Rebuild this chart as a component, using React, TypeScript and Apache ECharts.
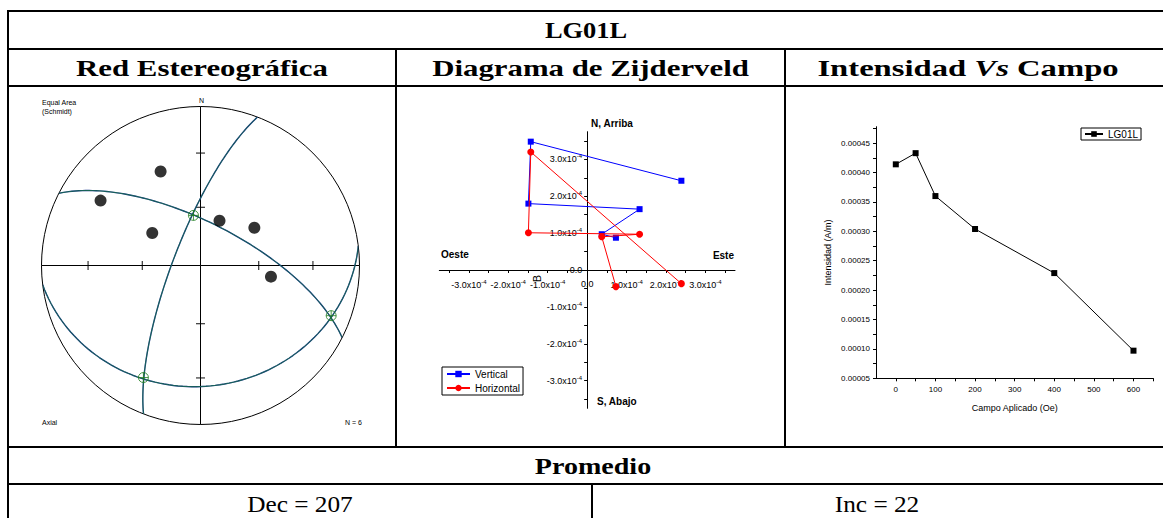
import React, { useEffect, useRef } from "react";
import * as echarts from "echarts";

// ---------- Data ----------
const siteName = "LG01L";
const headers = ["Red Estereográfica", "Diagrama de Zijderveld", "Intensidad Vs Campo"];

// Stereonet (equal area, lower hemisphere): directions as declination / inclination
const dotDec = [337, 303, 304, 23, 55, 99];
const dotInc = [36, 26, 60, 65, 56, 53];
// Great circles: dip direction / dip
const planeDipDir = [27, 291, 173];
const planeDip = [68, 76, 25];
// Intersections (circle-plus markers): trend / plunge
const crossDec = [352, 111, 207];
const crossInc = [64, 13, 22];
const stereoTickIncs = [30, 60];
const stereoTickDirs = [0, 90, 180, 270];

// Zijderveld (A/m)
const zEast = [2.39e-4, -1.43e-4, -1.49e-4, 1.33e-4, 0.37e-4, 0.73e-4];
const zUp = [2.42e-4, 3.48e-4, 1.8e-4, 1.65e-4, 0.97e-4, 0.875e-4];
const zNorth = [-0.37e-4, 3.2e-4, 1.01e-4, 0.97e-4, 0.9e-4, -0.45e-4];
const zLabelTicks = [-3e-4, -2e-4, -1e-4, 0, 1e-4, 2e-4, 3e-4];
const zMinorTicks = [-3.5e-4, -3e-4, -2.5e-4, -2e-4, -1.5e-4, -1e-4, -0.5e-4, 0, 0.5e-4, 1e-4, 1.5e-4, 2e-4, 2.5e-4, 3e-4, 3.5e-4];

// Intensity vs applied field
const fieldSteps = [0, 50, 100, 200, 400, 600];
const intensity = [0.000414, 0.000433, 0.00036, 0.000304, 0.000229, 0.000097];
const fieldLabels = [0, 100, 200, 300, 400, 500, 600];
const fieldTicks = [0, 50, 100, 150, 200, 250, 300, 350, 400, 450, 500, 550, 600, 650];
const intLabels = [0.00005, 0.0001, 0.00015, 0.0002, 0.00025, 0.0003, 0.00035, 0.0004, 0.00045];
const intTicks = [0.00005, 0.000075, 0.0001, 0.000125, 0.00015, 0.000175, 0.0002, 0.000225, 0.00025, 0.000275, 0.0003, 0.000325, 0.00035, 0.000375, 0.0004, 0.000425, 0.00045, 0.000475];

const avgDec = 207;
const avgInc = 22;

// ---------- helpers ----------
const SERIF = "'Liberation Serif', 'Times New Roman', serif";
const SANS = "'Liberation Sans', Arial, sans-serif";
const RAD = Math.PI / 180;
const eqArea = (plunge: number) => Math.SQRT2 * Math.sin(((90 - plunge) / 2) * RAD);

function greatCircle(dd: number, dip: number) {
  const st = (dd - 90) * RAD;
  const s = [Math.sin(st), Math.cos(st), 0];
  const d = [Math.sin(dd * RAD) * Math.cos(dip * RAD), Math.cos(dd * RAD) * Math.cos(dip * RAD), Math.sin(dip * RAD)];
  const pts: number[][] = [];
  for (let t = 0; t <= 180; t += 2) {
    const c = Math.cos(t * RAD), sn = Math.sin(t * RAD);
    const v = [c * s[0] + sn * d[0], c * s[1] + sn * d[1], c * s[2] + sn * d[2]];
    const plunge = Math.asin(Math.max(-1, Math.min(1, v[2]))) / RAD;
    let trend = Math.atan2(v[0], v[1]) / RAD;
    if (trend < 0) trend += 360;
    pts.push([eqArea(plunge), trend]);
  }
  return pts;
}

const fmtZ = (v: number) => {
  const m = Math.round((v / 1e-4) * 10) / 10;
  if (m === 0) return "{a|0.0}";
  return `{a|${m.toFixed(1)}x10}{s|-4}`;
};
const zRich = {
  a: { fontSize: 9, fontFamily: SANS, color: "#000" },
  s: { fontSize: 6, fontFamily: SANS, color: "#000", padding: [0, 0, 6, 0] },
};

function serifText(text: string, x: number, y: number, size: number, bold: boolean, sx: number) {
  return {
    type: "text",
    x,
    y,
    scaleX: sx,
    silent: true,
    style: {
      text,
      fontSize: size,
      fontFamily: SERIF,
      fontWeight: bold ? "bold" : "normal",
      fill: "#000",
      align: "center",
      verticalAlign: "middle",
    },
  };
}
function sansText(text: string, x: number, y: number, size: number, bold: boolean, align = "left", rotation = 0) {
  return {
    type: "text",
    x,
    y,
    rotation,
    silent: true,
    style: {
      text,
      fontSize: size,
      fontFamily: SANS,
      fontWeight: bold ? "bold" : "normal",
      fill: "#000",
      align,
      verticalAlign: "middle",
    },
  };
}
const hline = (x1: number, x2: number, y: number) => ({
  type: "line", silent: true, shape: { x1, y1: y, x2, y2: y }, style: { stroke: "#000", lineWidth: 2 },
});
const vline = (x: number, y1: number, y2: number) => ({
  type: "line", silent: true, shape: { x1: x, y1, x2: x, y2 }, style: { stroke: "#000", lineWidth: 2 },
});

export default function App() {
  const ref = useRef<HTMLDivElement>(null);
  useEffect(() => {
    document.body.style.margin = "0";
    if (!ref.current) return;
    const chart = echarts.init(ref.current, undefined, { renderer: "svg" });

    const L = 8, R = 1163, T = 11;
    const rows = [49, 86, 447, 484];
    const c1 = 396, c2 = 785, cb = 592;
    const HB = 1.34; // stretch for bold headers (wide Garamond face)

    const graphic: any[] = [
      hline(L - 1, R + 1, T),
      ...rows.map((y) => hline(L - 1, R + 1, y)),
      vline(L, T, 518),
      vline(c1, rows[0], rows[2]),
      vline(c2, rows[0], rows[2]),
      vline(cb, rows[3], 518),
      serifText(siteName, 586, 30, 23, true, 1.15),
      serifText(headers[0], (L + c1) / 2, 68, 23, true, HB),
      serifText(headers[1], (c1 + c2) / 2, 68, 23, true, HB),
      {
        type: "text", x: 968, y: 68, scaleX: 1.42, silent: true,
        style: {
          text: "{a|Intensidad }{b|Vs}{a| Campo}",
          align: "center", verticalAlign: "middle",
          rich: {
            a: { fontSize: 23, fontFamily: SERIF, fontWeight: "bold", color: "#000" },
            b: { fontSize: 23, fontFamily: SERIF, fontWeight: "bold", fontStyle: "italic", color: "#000" },
          },
        },
      },
      serifText("Promedio", 593, 466, 23, true, 1.22),
      serifText(`Dec = ${avgDec}`, 300, 504, 23, false, 1.1),
      serifText(`Inc = ${avgInc}`, 877, 504, 23, false, 1.1),
      // stereonet annotations
      sansText("Equal Area", 42, 102, 7, false),
      sansText("(Schmidt)", 42, 111, 7, false),
      sansText("N", 201.5, 100.5, 7, false, "center"),
      sansText("Axial", 42, 422, 7, false),
      sansText("N = 6", 362, 422, 7, false, "right"),
      // Zijderveld annotations
      sansText("N, Arriba", 591, 123.5, 10, true),
      sansText("S, Abajo", 597, 401, 10, true),
      sansText("Oeste", 441, 254.5, 10, true),
      sansText("Este", 734, 255, 10, true, "right"),
      sansText("B", 536.5, 278.5, 11, false, "center", Math.PI / 2),
    ];

    const planes = planeDipDir.map((dd, i) => greatCircle(dd, planeDip[i]));
    const tickData: any[] = [];
    stereoTickDirs.forEach((dir) =>
      stereoTickIncs.forEach((inc) =>
        tickData.push({ value: [eqArea(inc), dir], symbolRotate: dir % 180 === 0 ? 0 : 90 })
      )
    );

    const series: any[] = [];
    planes.forEach((pts, i) => {
      series.push({
        type: "line", coordinateSystem: "polar", data: pts, showSymbol: false, symbol: "none", silent: true,
        lineStyle: { color: "#102c88", width: 1.4 }, z: 3, name: "plane" + i,
      });
      series.push({
        type: "line", coordinateSystem: "polar", data: pts, showSymbol: false, symbol: "none", silent: true,
        lineStyle: { color: "#22a022", width: 0.5 }, z: 4, name: "planeg" + i,
      });
    });
    series.push({
      type: "scatter", coordinateSystem: "polar", data: tickData, symbol: "rect", symbolSize: [9, 1.2],
      itemStyle: { color: "#000" }, silent: true, z: 2,
    });
    series.push({
      type: "scatter", coordinateSystem: "polar",
      data: dotDec.map((d, i) => [eqArea(dotInc[i]), d]),
      symbol: "circle", symbolSize: 12, itemStyle: { color: "#000" }, silent: true, z: 5,
    });
    series.push({
      type: "scatter", coordinateSystem: "polar",
      data: crossDec.map((d, i) => [eqArea(crossInc[i]), d]),
      symbol: "path://M10,0A10,10,0,1,1,-10,0A10,10,0,1,1,10,0ZM-10,0L10,0M0,-10L0,10",
      symbolSize: 10, itemStyle: { color: "transparent", borderColor: "#1e7d1e", borderWidth: 1 }, silent: true, z: 6,
    });
    // Zijderveld
    series.push({
      name: "Vertical", type: "line", xAxisIndex: 0, yAxisIndex: 0,
      data: zEast.map((x, i) => [x, zUp[i]]), symbol: "rect", symbolSize: 6,
      lineStyle: { color: "#0000ff", width: 1 }, itemStyle: { color: "#0000ff" }, z: 4,
    });
    series.push({
      name: "Horizontal", type: "line", xAxisIndex: 0, yAxisIndex: 0,
      data: zEast.map((x, i) => [x, zNorth[i]]), symbol: "circle", symbolSize: 7,
      lineStyle: { color: "#ff0000", width: 1 }, itemStyle: { color: "#ff0000" }, z: 5,
    });
    // Intensity
    series.push({
      name: siteName, type: "line", xAxisIndex: 1, yAxisIndex: 1,
      data: fieldSteps.map((f, i) => [f, intensity[i]]), symbol: "rect", symbolSize: 6,
      lineStyle: { color: "#000", width: 1 }, itemStyle: { color: "#000" },
    });

    const zg = { left: 439.3, top: 131.7, width: 295.7, height: 276.6 };

    chart.setOption({
      animation: false,
      backgroundColor: "#fff",
      textStyle: { fontFamily: SANS },
      polar: { center: [200.5, 265.5], radius: 159 },
      angleAxis: {
        type: "value", min: 0, max: 360, interval: 90, startAngle: 90, clockwise: true,
        axisLine: { show: true, lineStyle: { color: "#000", width: 1 } },
        axisTick: { show: false }, axisLabel: { show: false },
        splitLine: { show: true, lineStyle: { color: "#000", width: 1 } },
      },
      radiusAxis: { type: "value", min: 0, max: 1, show: false },
      grid: [
        zg,
        { left: 876, top: 126.7, width: 277.3, height: 251.6 },
      ],
      xAxis: [
        {
          gridIndex: 0, type: "value", min: -3.75e-4, max: 3.75e-4, position: "bottom",
          offset: -zg.height / 2,
          splitLine: { show: false },
          axisLine: { onZero: false, lineStyle: { color: "#000", width: 1 } },
          axisTick: { customValues: zMinorTicks, length: 3, lineStyle: { color: "#000" } },
          axisLabel: { customValues: zLabelTicks, formatter: fmtZ, rich: zRich, margin: 9 },
        },
        {
          gridIndex: 1, type: "value", min: -50, max: 650,
          splitLine: { show: false },
          axisLine: { onZero: false, lineStyle: { color: "#000", width: 1 } },
          axisTick: { customValues: fieldTicks, length: 3, lineStyle: { color: "#000" } },
          axisLabel: { customValues: fieldLabels, fontSize: 8, color: "#000", margin: 7 },
          name: "Campo Aplicado (Oe)", nameLocation: "middle", nameGap: 25,
          nameTextStyle: { fontSize: 9, color: "#000" },
        },
      ],
      yAxis: [
        {
          gridIndex: 0, type: "value", min: -3.75e-4, max: 3.75e-4, position: "left",
          offset: -zg.width / 2,
          splitLine: { show: false },
          axisLine: { onZero: false, lineStyle: { color: "#000", width: 1 } },
          axisTick: { customValues: zMinorTicks, length: 3, lineStyle: { color: "#000" } },
          axisLabel: { customValues: zLabelTicks, formatter: fmtZ, rich: zRich, margin: 5 },
        },
        {
          gridIndex: 1, type: "value", min: 0.00005, max: 0.000478,
          splitLine: { show: false },
          axisLine: { onZero: false, lineStyle: { color: "#000", width: 1 } },
          axisTick: { customValues: intTicks, length: 3, lineStyle: { color: "#000" } },
          axisLabel: { customValues: intLabels, fontSize: 8, color: "#000", margin: 6, formatter: (v: number) => v.toFixed(5) },
          name: "Intensidad (A/m)", nameLocation: "middle", nameGap: 44,
          nameTextStyle: { fontSize: 9, color: "#000" },
        },
      ],
      legend: [
        {
          data: ["Vertical", "Horizontal"], orient: "vertical", left: 442, top: 367,
          padding: [2, 3, 2, 4], itemGap: 4, itemWidth: 23, itemHeight: 8,
          borderColor: "#000", borderWidth: 1, selectedMode: false,
          textStyle: { fontSize: 10, color: "#000", fontFamily: SANS },
        },
        {
          data: [siteName], left: 1081, top: 128, padding: [1, 3, 1, 3], itemWidth: 18, itemHeight: 7,
          borderColor: "#000", borderWidth: 1, selectedMode: false,
          textStyle: { fontSize: 10, color: "#000", fontFamily: SANS },
        },
      ],
      graphic,
      series,
    });
    return () => chart.dispose();
  }, []);
  return <div ref={ref} style={{ position: "absolute", left: 0, top: 0, width: 1163, height: 518 }} />;
}
